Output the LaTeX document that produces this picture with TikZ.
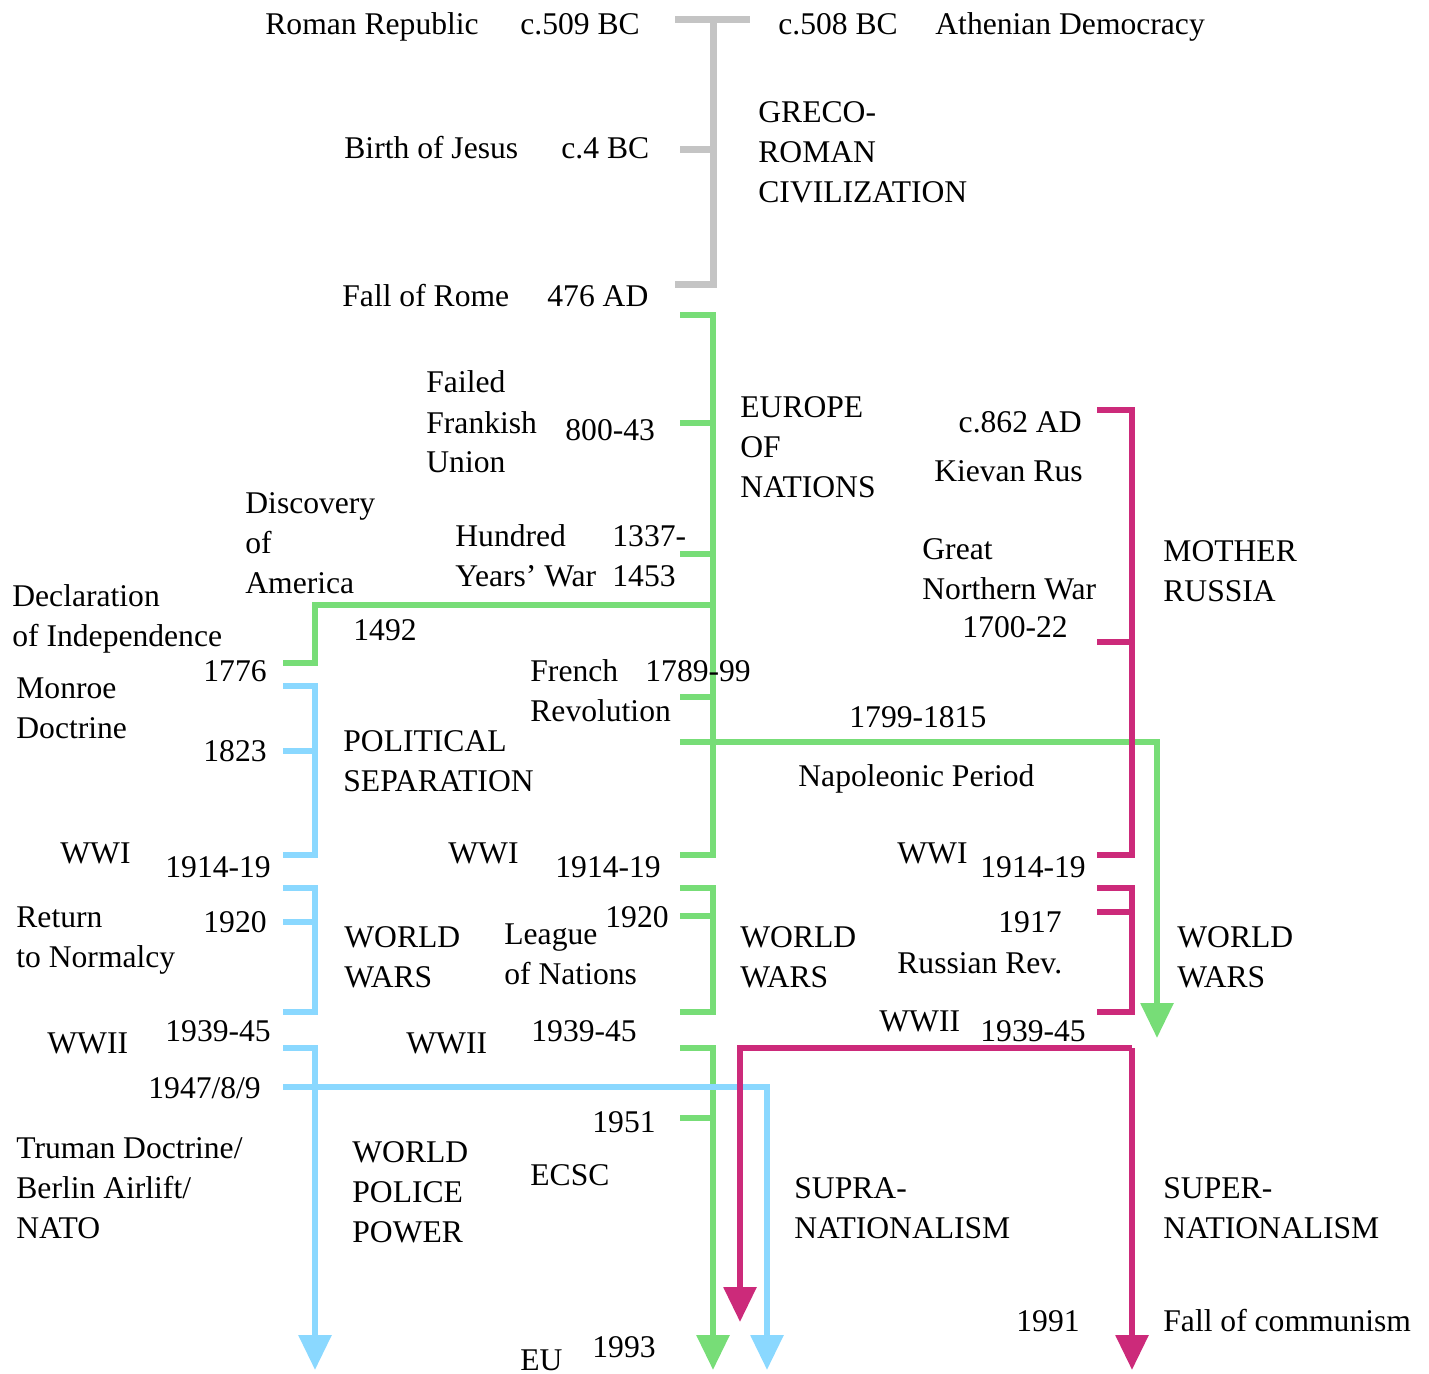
\documentclass[tikz,border=0pt]{standalone}
\usepackage{fontspec}
\setmainfont{Liberation Serif}
\usetikzlibrary{arrows.meta}
\definecolor{romegray}{RGB}{196,196,196}
\definecolor{eurogreen}{RGB}{119,221,119}
\definecolor{usblue}{RGB}{138,216,255}
\definecolor{rusred}{RGB}{204,42,122}
\tikzset{
  era/.style={line width=3pt},
  downtip/.style={-{Triangle[width=16pt,length=17.5pt]}},
  lbl/.style={inner sep=0pt, anchor=base west, align=left, font=\fontsize{15.8}{20}\selectfont},
  rlbl/.style={lbl, anchor=base east, align=right},
}
\begin{document}
\begin{tikzpicture}[x=0.5pt, y=-0.5pt]
  \useasboundingbox (0,0) rectangle (1429,1374);
  % lines
  \draw[era, romegray, line width=3.5pt] (675,20) -- (750,20);
  \draw[era, romegray, line width=3.5pt] (713,20) -- (713,285) -- (675,285);
  \draw[era, romegray, line width=3.5pt] (680,150) -- (713,150);

  \draw[era, eurogreen] (680,315) -- (713,315) -- (713,855) -- (680,855);
  \foreach \y in {423,554,697} \draw[era, eurogreen] (680,\y) -- (713,\y);
  \draw[era, eurogreen] (713,605) -- (315,605) -- (315,663) -- (283,663);
  \draw[era, eurogreen, downtip] (680,742) -- (1157,742) -- (1157,1038);
  \draw[era, eurogreen] (680,888) -- (713,888) -- (713,1012) -- (680,1012);
  \draw[era, eurogreen] (680,916) -- (713,916);
  \draw[era, eurogreen, downtip] (680,1048) -- (713,1048) -- (713,1370);
  \draw[era, eurogreen] (680,1118) -- (713,1118);

  \draw[era, usblue] (283,686) -- (315,686) -- (315,855) -- (283,855);
  \draw[era, usblue] (283,751) -- (315,751);
  \draw[era, usblue] (283,888) -- (315,888) -- (315,1012) -- (283,1012);
  \draw[era, usblue] (283,922) -- (315,922);
  \draw[era, usblue, downtip] (283,1048) -- (315,1048) -- (315,1370);
  \draw[era, usblue, downtip] (283,1087) -- (767,1087) -- (767,1370);

  \draw[era, rusred] (1097,410) -- (1132,410) -- (1132,855) -- (1097,855);
  \draw[era, rusred] (1097,642) -- (1132,642);
  \draw[era, rusred] (1097,888) -- (1132,888) -- (1132,1012) -- (1097,1012);
  \draw[era, rusred] (1097,912) -- (1132,912);
  \draw[era, rusred, downtip] (1132,1048) -- (1132,1370);
  \draw[era, rusred, downtip] (1132,1048) -- (740,1048) -- (740,1322);

  % labels
  \node[lbl] (romrep) at (265,35) {Roman Republic};
  \node[lbl] (c509) at (520,35) {c.509 BC};
  \node[lbl] (c508) at (778,35) {c.508 BC};
  \node[lbl] (athens) at (935,35) {Athenian Democracy};
  \node[lbl] (jesus) at (344,159) {Birth of Jesus};
  \node[lbl] (c4) at (561,159) {c.4 BC};
  \node[lbl] (greco) at (758,203) {GRECO-\\ROMAN\\CIVILIZATION};
  \node[lbl] (fallrome) at (342,307) {Fall of Rome};
  \node[lbl] (ad476) at (547,307) {476 AD};

  \node[lbl] (frankish) at (426,473) {Failed\\Frankish\\Union};
  \node[lbl] (y800) at (565,440) {800-43};
  \node[lbl] (europe) at (740,497) {EUROPE\\OF\\NATIONS};
  \node[rlbl] (c862) at (1082,432) {c.862 AD};
  \node[rlbl] (kievan) at (1083,481) {Kievan Rus};
  \node[lbl] (discovery) at (245,593) {Discovery\\of\\America};
  \node[lbl] (hundred) at (455,586) {Hundred\\Years’ War};
  \node[lbl] (y1337) at (612,586) {1337-\\1453};
  \node[lbl] (northern) at (922,599) {Great\\Northern War};
  \node[lbl] (y1700) at (962,637) {1700-22};
  \node[lbl] (mother) at (1163,601) {MOTHER\\RUSSIA};
  \node[lbl] (declaration) at (12,646) {Declaration\\of Independence};
  \node[lbl] (y1492) at (353,640) {1492};
  \node[lbl] (y1776) at (203,681) {1776};
  \node[lbl] (monroe) at (16,738) {Monroe\\Doctrine};
  \node[lbl] (french) at (530,721) {French\\Revolution};
  \node[lbl] (y1789) at (645,681) {1789-99};
  \node[lbl] (y1799) at (849,727) {1799-1815};
  \node[lbl] (y1823) at (203,761) {1823};
  \node[lbl] (political) at (343,791) {POLITICAL\\SEPARATION};
  \node[lbl] (napoleon) at (798,786) {Napoleonic Period};

  \node[lbl] (wwiA) at (60,863) {WWI};
  \node[lbl] (y1914A) at (165,877) {1914-19};
  \node[lbl] (wwiB) at (448,863) {WWI};
  \node[lbl] (y1914B) at (555,877) {1914-19};
  \node[lbl] (wwiC) at (897,863) {WWI};
  \node[lbl] (y1914C) at (980,877) {1914-19};
  \node[lbl] (normalcy) at (16,967) {Return\\to Normalcy};
  \node[lbl] (y1920A) at (203,932) {1920};
  \node[lbl] (warsA) at (344,987) {WORLD\\WARS};
  \node[lbl] (league) at (504,984) {League\\of Nations};
  \node[lbl] (y1920B) at (605,927) {1920};
  \node[lbl] (warsB) at (740,987) {WORLD\\WARS};
  \node[lbl] (y1917) at (998,932) {1917};
  \node[lbl] (rusrev) at (897,973) {Russian Rev.};
  \node[lbl] (warsC) at (1177,987) {WORLD\\WARS};
  \node[lbl] (wwiiA) at (47,1053) {WWII};
  \node[lbl] (y1939A) at (165,1041) {1939-45};
  \node[lbl] (wwiiB) at (406,1053) {WWII};
  \node[lbl] (y1939B) at (531,1041) {1939-45};
  \node[lbl] (wwiiC) at (879,1031) {WWII};
  \node[lbl] (y1939C) at (980,1041) {1939-45};

  \node[lbl] (y1947) at (148,1098) {1947/8/9};
  \node[lbl] (y1951) at (592,1132) {1951};
  \node[lbl] (truman) at (16,1238) {Truman Doctrine/\\Berlin Airlift/\\NATO};
  \node[lbl] (police) at (352,1242) {WORLD\\POLICE\\POWER};
  \node[lbl] (ecsc) at (530,1185) {ECSC};
  \node[lbl] (supra) at (794,1238) {SUPRA-\\NATIONALISM};
  \node[lbl] (super) at (1163,1238) {SUPER-\\NATIONALISM};
  \node[lbl] (y1991) at (1016,1331) {1991};
  \node[lbl] (fallcom) at (1163,1331) {Fall of communism};
  \node[lbl] (y1993) at (592,1357) {1993};
  \node[lbl] (eu) at (520,1370) {EU};
\end{tikzpicture}
\end{document}
